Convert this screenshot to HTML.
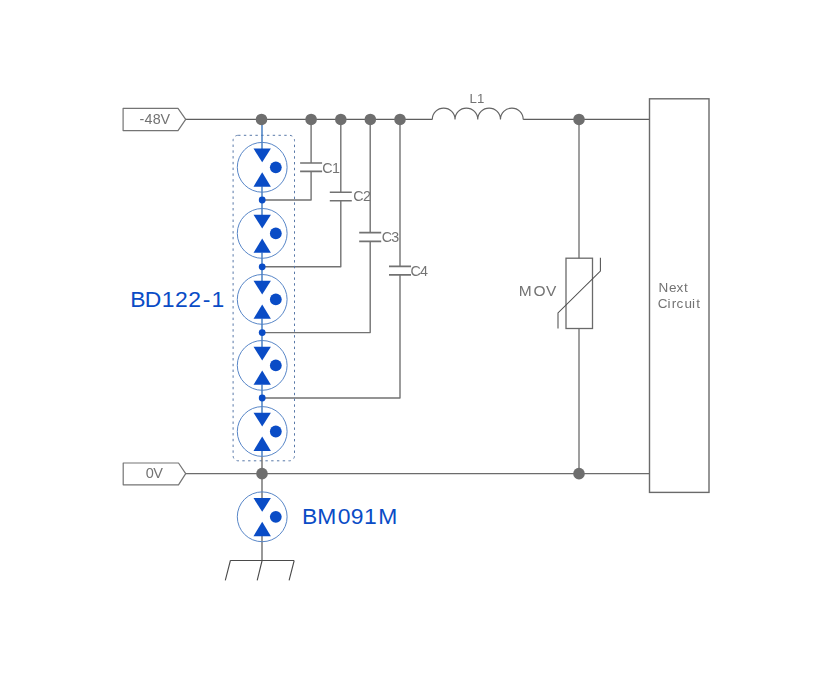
<!DOCTYPE html>
<html><head><meta charset="utf-8"><style>
html,body{margin:0;padding:0;background:#fff;}
body{width:832px;height:675px;overflow:hidden;font-family:"Liberation Sans",sans-serif;}
svg{display:block;}
</style></head><body>
<svg width="832" height="675" viewBox="0 0 832 675">
<rect width="832" height="675" fill="#fff"/>
<path d="M185.7 119.45 H432.3 M523.2 119.45 H649.5" stroke="#5e5e5e" stroke-width="1.25" fill="none"/>
<path d="M185.7 473.65 H649.5" stroke="#6c6c6c" stroke-width="1.4" fill="none"/>
<path d="M432.3 119.45 A11.362500000000004 11.362500000000004 0 0 1 455.02500000000003 119.45 A11.362500000000004 11.362500000000004 0 0 1 477.75 119.45 A11.362500000000004 11.362500000000004 0 0 1 500.475 119.45 A11.362500000000004 11.362500000000004 0 0 1 523.2 119.45" stroke="#646464" stroke-width="1.15" fill="none"/>
<polygon points="123.1,108.3 178,108.3 185.7,119.45 178,130.6 123.1,130.6" fill="#fff" stroke="#747474" stroke-width="1.2" stroke-linejoin="round"/>
<polygon points="123.2,463.0 178.5,463.0 185.7,473.65 178.5,484.8 123.2,484.8" fill="#fff" stroke="#747474" stroke-width="1.2" stroke-linejoin="round"/>
<rect x="649.5" y="98.8" width="59.5" height="393.6" fill="#fff" stroke="#6a6a6a" stroke-width="1.4"/>
<path d="M579 119.45 V258.2 M579 328.5 V473.65" stroke="#777" stroke-width="1.4" fill="none"/>
<rect x="566" y="258.2" width="26.5" height="70.3" fill="none" stroke="#6a6a6a" stroke-width="1.3"/>
<path d="M558 328.4 V313 L600.4 271.1 V257.8" stroke="#505050" stroke-width="1.05" fill="none"/>
<path d="M311.1 119.45 V163.0 M311.1 171.4 V200.0 H262.2" stroke="#727272" stroke-width="1.4" fill="none" stroke-linejoin="round"/>
<path d="M300.1 163.0 H322.1 M300.1 171.4 H322.1" stroke="#727272" stroke-width="1.6" fill="none"/>
<path d="M340.8 119.45 V192.3 M340.8 200.7 V266.8 H262.2" stroke="#727272" stroke-width="1.4" fill="none" stroke-linejoin="round"/>
<path d="M329.8 192.3 H351.8 M329.8 200.7 H351.8" stroke="#727272" stroke-width="1.6" fill="none"/>
<path d="M370.2 119.45 V232.6 M370.2 241.4 V332.6 H262.2" stroke="#727272" stroke-width="1.4" fill="none" stroke-linejoin="round"/>
<path d="M359.2 232.6 H381.2 M359.2 241.4 H381.2" stroke="#727272" stroke-width="1.6" fill="none"/>
<path d="M400.0 119.45 V266.4 M400.0 274.9 V398.0 H262.2" stroke="#727272" stroke-width="1.4" fill="none" stroke-linejoin="round"/>
<path d="M389.0 266.4 H411.0 M389.0 274.9 H411.0" stroke="#727272" stroke-width="1.6" fill="none"/>
<rect x="233.1" y="135.3" width="61.4" height="325.5" rx="5" fill="none" stroke="#5878a8" stroke-width="1.0" stroke-dasharray="2.4 3.37"/>
<path d="M262.0 119.45 V149.3 M262.0 186.3 V215.4 M262.0 252.4 V281.4 M262.0 318.4 V347.4 M262.0 384.4 V413.5 M262.0 450.5 V456.5" stroke="#3c78c0" stroke-width="1.4" fill="none"/>
<path d="M262.0 456.5 V498.79999999999995 M262.0 535.8 V560.4" stroke="#6e6e6e" stroke-width="1.4" fill="none"/>
<circle cx="262.2" cy="167.3" r="24.9" fill="none" stroke="#4f7fc4" stroke-width="0.95"/>
<polygon points="253.5,148.60000000000002 270.9,148.60000000000002 262.2,162.3" fill="#0a4cc6"/>
<polygon points="262.2,172.3 253.5,186.70000000000002 270.9,186.70000000000002" fill="#0a4cc6"/>
<circle cx="275.8" cy="167.3" r="5.9" fill="#0a4cc6"/>
<circle cx="262.2" cy="233.4" r="24.9" fill="none" stroke="#4f7fc4" stroke-width="0.95"/>
<polygon points="253.5,214.70000000000002 270.9,214.70000000000002 262.2,228.4" fill="#0a4cc6"/>
<polygon points="262.2,238.4 253.5,252.8 270.9,252.8" fill="#0a4cc6"/>
<circle cx="275.8" cy="233.4" r="5.9" fill="#0a4cc6"/>
<circle cx="262.2" cy="299.4" r="24.9" fill="none" stroke="#4f7fc4" stroke-width="0.95"/>
<polygon points="253.5,280.7 270.9,280.7 262.2,294.4" fill="#0a4cc6"/>
<polygon points="262.2,304.4 253.5,318.79999999999995 270.9,318.79999999999995" fill="#0a4cc6"/>
<circle cx="275.8" cy="299.4" r="5.9" fill="#0a4cc6"/>
<circle cx="262.2" cy="365.4" r="24.9" fill="none" stroke="#4f7fc4" stroke-width="0.95"/>
<polygon points="253.5,346.7 270.9,346.7 262.2,360.4" fill="#0a4cc6"/>
<polygon points="262.2,370.4 253.5,384.79999999999995 270.9,384.79999999999995" fill="#0a4cc6"/>
<circle cx="275.8" cy="365.4" r="5.9" fill="#0a4cc6"/>
<circle cx="262.2" cy="431.5" r="24.9" fill="none" stroke="#4f7fc4" stroke-width="0.95"/>
<polygon points="253.5,412.8 270.9,412.8 262.2,426.5" fill="#0a4cc6"/>
<polygon points="262.2,436.5 253.5,450.9 270.9,450.9" fill="#0a4cc6"/>
<circle cx="275.8" cy="431.5" r="5.9" fill="#0a4cc6"/>
<circle cx="262.2" cy="516.8" r="24.9" fill="none" stroke="#4f7fc4" stroke-width="0.95"/>
<polygon points="253.5,498.09999999999997 270.9,498.09999999999997 262.2,511.79999999999995" fill="#0a4cc6"/>
<polygon points="262.2,521.8 253.5,536.1999999999999 270.9,536.1999999999999" fill="#0a4cc6"/>
<circle cx="275.8" cy="516.8" r="5.9" fill="#0a4cc6"/>
<circle cx="262.2" cy="200.0" r="3.4" fill="#0a4cc6"/>
<circle cx="262.2" cy="266.8" r="3.4" fill="#0a4cc6"/>
<circle cx="262.2" cy="332.6" r="3.4" fill="#0a4cc6"/>
<circle cx="262.2" cy="398.0" r="3.4" fill="#0a4cc6"/>
<circle cx="261.5" cy="119.45" r="5.8" fill="#6e6e6e"/>
<circle cx="311.1" cy="119.45" r="5.8" fill="#6e6e6e"/>
<circle cx="340.8" cy="119.45" r="5.8" fill="#6e6e6e"/>
<circle cx="370.3" cy="119.45" r="5.8" fill="#6e6e6e"/>
<circle cx="400.0" cy="119.45" r="5.8" fill="#6e6e6e"/>
<circle cx="579.0" cy="119.45" r="5.8" fill="#6e6e6e"/>
<circle cx="262.0" cy="473.65" r="5.8" fill="#6e6e6e"/>
<circle cx="579.0" cy="473.65" r="5.8" fill="#6e6e6e"/>
<path d="M230.4 560.5 H294.2 M230.4 560.5 L225.3 580.4 M262.1 560.5 L257.2 580.4 M294.2 560.5 L289.1 580.4" stroke="#4a4a4a" stroke-width="1.1" fill="none"/>
<g style="filter:grayscale(1)">
<text x="139.46 144.51 152.76 160.51" y="123.62" font-size="14.35" fill="#737373" font-family="Liberation Sans, sans-serif">-48V</text>
<text x="145.67 153.31" y="478.00" font-size="14.50" fill="#737373" font-family="Liberation Sans, sans-serif">0V</text>
<text x="469.43 476.95" y="102.84" font-size="13.20" fill="#737373" font-family="Liberation Sans, sans-serif">L1</text>
<text x="658.62 669.01 676.57 683.92" y="291.98" font-size="13.50" fill="#737373" font-family="Liberation Sans, sans-serif">Next</text>
<text x="657.69 667.48 671.72 676.47 684.41 692.00 696.32" y="307.66" font-size="13.50" fill="#737373" font-family="Liberation Sans, sans-serif">Circuit</text>
<text x="518.79 533.43 545.93" y="295.80" font-size="15.50" fill="#737373" font-family="Liberation Sans, sans-serif">MOV</text>
<text x="322.32 331.88" y="172.82" font-size="14.30" fill="#737373" font-family="Liberation Sans, sans-serif">C1</text>
<text x="353.23 363.07" y="200.68" font-size="14.30" fill="#737373" font-family="Liberation Sans, sans-serif">C2</text>
<text x="381.65 391.27" y="241.62" font-size="14.30" fill="#737373" font-family="Liberation Sans, sans-serif">C3</text>
<text x="410.40 420.12" y="275.60" font-size="14.30" fill="#737373" font-family="Liberation Sans, sans-serif">C4</text>
</g>
<text x="130.18 144.84 161.77 174.98 188.23 202.69 211.54" y="306.75" font-size="22.90" fill="#0a4cc6" font-family="Liberation Sans, sans-serif">BD122-1</text>
<text x="302.03 317.16 337.71 350.86 364.12 378.31" y="524.12" font-size="22.90" fill="#0a4cc6" font-family="Liberation Sans, sans-serif">BM091M</text>
</svg>
</body></html>
